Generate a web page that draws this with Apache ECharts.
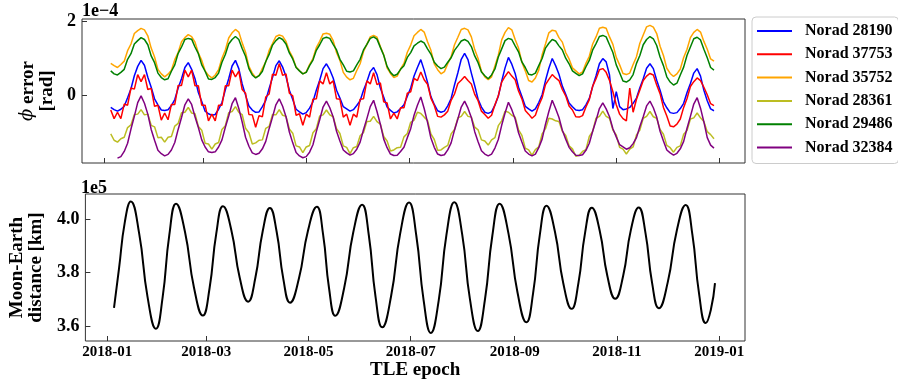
<!DOCTYPE html>
<html><head><meta charset="utf-8">
<script src="https://cdn.jsdelivr.net/npm/echarts@6/dist/echarts.min.js"></script>
<style>html,body{margin:0;padding:0;background:#fff}#c{width:898px;height:385px}</style>
</head><body><div id="c"></div><script>
// sample days (days since 2018-01-01) for the phi-error series
const days = [4,6,8,10,12,14,16,18,20,22,24,26,28,30,32,34,36,38,40,42,44,46,48,50,52,54,56,58,60,62,64,66,68,70,72,74,76,78,80,82,84,86,88,90,92,94,96,98,100,102,104,106,108,110,112,114,116,118,120,122,124,126,128,130,132,134,136,138,140,142,144,146,148,150,152,154,156,158,160,162,164,166,168,170,172,174,176,178,180,182,184,186,188,190,192,194,196,198,200,202,204,206,208,210,212,214,216,218,220,222,224,226,228,230,232,234,236,238,240,242,244,246,248,250,252,254,256,258,260,262,264,266,268,270,272,274,276,278,280,282,284,286,288,290,292,294,296,298,300,302,304,306,308,310,312,314,316,318,320,322,324,326,328,330,332,334,336,338,340,342,344,346,348,350,352,354,356,358,360,362];

// phi error values, units of 1e-4 rad
const norad28190 = [-0.32,-0.38,-0.42,
 -0.37,-0.29,-0.06,0.18,0.53,0.78,0.94,
 0.81,0.49,0.22,-0.09,-0.25,-0.39,-0.40,
 -0.38,-0.27,-0.11,0.20,0.45,0.75,0.88,
 0.70,0.45,0.08,-0.16,-0.42,-0.49,-0.53,
 -0.51,-0.37,-0.19,0.15,0.45,0.79,0.94,
 0.72,0.31,0.01,-0.28,-0.39,-0.45,
 -0.44,-0.30,-0.13,0.19,0.48,0.80,0.93,
 0.76,0.51,0.14,-0.11,-0.37,-0.44,-0.50,
 -0.46,-0.34,-0.17,0.14,0.41,0.72,0.85,
 0.69,0.47,0.14,-0.07,-0.30,-0.36,-0.42,
 -0.38,-0.27,-0.14,0.14,0.37,0.64,0.75,
 0.56,0.20,-0.05,-0.31,-0.40,-0.47,
 -0.44,-0.35,-0.25,-0.02,0.20,0.52,0.75,0.96,
 0.68,0.35,-0.03,-0.24,-0.41,-0.45,
 -0.42,-0.28,-0.08,0.28,0.61,0.97,1.13,
 0.96,0.60,0.26,-0.10,-0.31,-0.45,-0.48,
 -0.44,-0.26,-0.02,0.38,0.74,1.02,
 0.84,0.59,0.22,-0.03,-0.29,-0.36,-0.42,
 -0.36,-0.19,0.02,0.40,0.73,0.99,
 0.80,0.57,0.25,0.03,-0.20,-0.30,-0.39,-0.40,
 -0.38,-0.25,-0.08,0.24,0.53,0.85,0.99,
 0.90,0.55,-0.35,0.10,-0.30,-0.38,-0.36,
 -0.32,-0.21,-0.07,0.21,0.45,0.73,0.85,
 0.72,0.41,0.14,-0.17,-0.33,-0.46,-0.48,
 -0.46,-0.35,-0.21,0.08,0.32,0.60,0.72,
 0.52,0.14,-0.14,-0.36,-0.41];

const norad37753 = [-0.39,-0.62,-0.45,
 -0.62,-0.23,-0.26,0.20,0.17,0.56,0.37,
 0.56,0.16,0.19,-0.29,-0.26,-0.66,-0.47,
 -0.65,-0.24,-0.24,0.27,0.27,0.68,0.50,
 0.68,0.26,0.26,-0.26,-0.26,-0.68,-0.50,
 -0.68,-0.26,-0.26,0.26,0.26,0.68,0.50,
 0.65,0.16,0.06,-0.51,-0.52,-0.85,
 -0.54,-0.57,-0.04,0.04,0.57,0.54,0.85,
 0.54,0.58,0.06,-0.01,-0.53,-0.49,-0.80,
 -0.50,-0.58,-0.10,-0.09,0.39,0.31,0.61,
 0.31,0.39,-0.09,-0.10,-0.58,-0.50,-0.80,
 -0.50,-0.58,-0.10,-0.09,0.39,0.31,0.61,
 0.29,0.34,-0.17,-0.20,-0.63,-0.47,
 -0.63,-0.33,-0.33,0.06,0.10,0.46,0.40,0.63,
 0.42,0.30,-0.07,-0.27,-0.56,-0.58,
 -0.52,-0.42,-0.13,0.04,0.32,0.41,0.51,
 0.40,0.31,0.03,-0.14,-0.42,-0.51,-0.61,
 -0.53,-0.25,-0.01,0.36,0.51,0.64,
 0.52,0.42,0.12,-0.09,-0.40,-0.50,-0.61,
 -0.53,-0.27,-0.06,0.29,0.43,0.56,
 0.47,0.40,0.16,-0.01,-0.28,-0.39,-0.57,-0.58,
 -0.54,-0.31,-0.11,0.25,0.45,0.69,0.72,
 0.62,0.40,0.10,-0.25,-0.50,-0.62,-0.68,
 0.20,-0.45,-0.10,0.15,0.40,0.52,0.59,
 0.55,0.28,0.05,-0.32,-0.55,-0.82,-0.84,
 -0.77,-0.63,-0.32,-0.08,0.24,0.37,0.47,
 0.40,0.22,0.02,-0.22,-0.27];

const norad35752 = [0.86,0.80,0.75,
 0.83,0.92,1.20,1.38,1.66,1.74,1.80,
 1.76,1.60,1.27,1.03,0.70,0.58,0.50,
 0.57,0.68,0.96,1.15,1.44,1.55,1.63,
 1.58,1.43,1.14,0.94,0.66,0.54,0.47,
 0.55,0.69,1.00,1.22,1.54,1.68,1.77,
 1.70,1.41,1.16,0.78,0.60,0.48,
 0.53,0.73,0.90,1.21,1.39,1.58,1.62,
 1.59,1.45,1.19,1.02,0.76,0.66,0.58,
 0.63,0.83,0.99,1.28,1.45,1.65,1.67,
 1.64,1.47,1.15,0.94,0.62,0.49,0.42,
 0.46,0.67,0.85,1.18,1.37,1.57,1.61,
 1.56,1.31,1.09,0.74,0.59,0.48,
 0.52,0.71,0.86,1.16,1.35,1.60,1.69,1.77,
 1.70,1.44,1.21,0.85,0.69,0.58,
 0.64,0.85,1.04,1.36,1.56,1.77,1.80,
 1.76,1.57,1.23,0.99,0.65,0.50,0.42,
 0.50,0.79,1.08,1.49,1.69,1.82,
 1.76,1.50,1.27,0.89,0.66,0.40,0.36,
 0.47,0.68,1.09,1.38,1.68,1.75,
 1.73,1.55,1.43,1.15,0.98,0.74,0.66,0.58,
 0.63,0.86,1.05,1.38,1.57,1.80,1.83,
 1.80,1.57,1.37,1.02,0.82,0.59,0.56,
 0.60,0.83,1.04,1.40,1.62,1.84,1.88,
 1.83,1.66,1.32,1.07,0.73,0.59,0.51,
 0.58,0.71,1.02,1.24,1.55,1.69,1.77,
 1.70,1.45,1.24,0.98,0.92];

const norad28361 = [-1.03,-1.20,-1.25,
 -1.16,-1.12,-0.86,-0.79,-0.51,-0.50,-0.38,
 -0.52,-0.50,-0.80,-0.84,-1.13,-1.12,-1.25,
 -1.12,-1.10,-0.82,-0.75,-0.46,-0.45,-0.32,
 -0.47,-0.49,-0.83,-0.93,-1.28,-1.30,-1.44,
 -1.30,-1.26,-0.91,-0.81,-0.46,-0.43,-0.30,
 -0.45,-0.51,-0.88,-1.00,-1.30,-1.27,
 -1.20,-1.19,-0.88,-0.83,-0.51,-0.52,-0.38,
 -0.53,-0.56,-0.90,-1.01,-1.35,-1.38,-1.53,
 -1.38,-1.34,-1.00,-0.89,-0.55,-0.52,-0.39,
 -0.52,-0.57,-0.89,-1.02,-1.35,-1.39,-1.56,
 -1.40,-1.37,-1.08,-0.99,-0.70,-0.69,-0.56,
 -0.70,-0.77,-1.10,-1.22,-1.49,-1.46,
 -1.40,-1.39,-1.11,-1.02,-0.72,-0.66,-0.45,-0.48,
 -0.58,-0.67,-1.03,-1.18,-1.47,-1.46,
 -1.39,-1.34,-1.03,-0.91,-0.60,-0.56,-0.43,
 -0.56,-0.58,-0.85,-0.92,-1.19,-1.22,-1.33,
 -1.19,-1.13,-0.81,-0.68,-0.42,-0.45,
 -0.53,-0.58,-0.92,-1.07,-1.41,-1.46,-1.60,
 -1.45,-1.38,-1.03,-0.89,-0.61,-0.63,
 -0.68,-0.70,-0.96,-1.07,-1.35,-1.43,-1.63,-1.60,
 -1.50,-1.45,-1.10,-0.96,-0.61,-0.56,-0.42,
 -0.56,-0.61,-0.93,-1.06,-1.39,-1.44,-1.57,
 -1.44,-1.38,-1.06,-0.93,-0.61,-0.56,-0.43,
 -0.57,-0.61,-0.91,-1.04,-1.34,-1.40,-1.52,
 -1.39,-1.35,-1.04,-0.94,-0.63,-0.60,-0.47,
 -0.60,-0.70,-0.97,-1.05,-1.16];

const norad29486 = [0.66,0.58,0.55,
 0.62,0.70,0.97,1.12,1.38,1.47,1.55,
 1.50,1.36,1.06,0.88,0.60,0.48,0.42,
 0.45,0.65,0.82,1.13,1.30,1.50,1.53,
 1.51,1.30,1.12,0.82,0.65,0.44,0.43,
 0.48,0.60,0.89,1.10,1.38,1.50,1.58,
 1.50,1.26,1.05,0.72,0.55,0.47,
 0.53,0.65,0.91,1.10,1.35,1.47,1.55,
 1.50,1.38,1.14,0.98,0.75,0.66,0.58,
 0.62,0.80,0.95,1.21,1.36,1.53,1.56,
 1.53,1.37,1.22,0.97,0.82,0.65,0.63,
 0.66,0.82,0.97,1.22,1.37,1.53,1.57,
 1.51,1.29,1.08,0.78,0.62,0.53,
 0.57,0.70,0.80,1.02,1.15,1.33,1.40,1.46,
 1.41,1.25,1.11,0.89,0.79,0.72,
 0.76,0.89,1.01,1.21,1.33,1.46,1.50,
 1.45,1.31,1.06,0.88,0.63,0.53,0.45,
 0.55,0.71,1.03,1.25,1.47,1.53,
 1.50,1.33,1.17,0.90,0.75,0.57,0.55,
 0.60,0.80,0.99,1.27,1.40,1.50,
 1.46,1.33,1.22,1.00,0.85,0.66,0.59,0.53,
 0.58,0.77,0.94,1.22,1.39,1.58,1.61,
 1.57,1.36,1.15,0.82,0.61,0.39,0.36,
 0.42,0.56,0.86,1.07,1.36,1.50,1.58,
 1.52,1.34,1.03,0.80,0.50,0.36,0.28,
 0.33,0.55,0.76,1.08,1.30,1.52,1.56,
 1.49,1.24,1.01,0.75,0.68];

const norad32384 = [null,null,-1.68,
 -1.64,-1.50,-1.28,-0.90,-0.56,-0.19,-0.01,
 -0.21,-0.50,-0.91,-1.20,-1.47,-1.56,-1.62,
 -1.58,-1.46,-1.26,-0.91,-0.59,-0.25,-0.09,
 -0.24,-0.57,-0.86,-1.19,-1.38,-1.51,-1.53,
 -1.51,-1.38,-1.19,-0.85,-0.55,-0.22,-0.06,
 -0.35,-0.71,-1.12,-1.36,-1.54,-1.58,
 -1.55,-1.43,-1.23,-0.89,-0.58,-0.25,-0.09,
 -0.29,-0.57,-0.98,-1.27,-1.53,-1.62,-1.67,
 -1.64,-1.52,-1.32,-0.97,-0.65,-0.31,-0.15,
 -0.33,-0.58,-0.96,-1.22,-1.46,-1.54,-1.60,
 -1.56,-1.44,-1.25,-0.92,-0.62,-0.30,-0.13,
 -0.43,-0.77,-1.17,-1.40,-1.57,-1.61,
 -1.60,-1.50,-1.39,-1.13,-0.89,-0.53,-0.26,-0.04,
 -0.35,-0.72,-1.14,-1.39,-1.57,-1.61,
 -1.59,-1.46,-1.27,-0.93,-0.63,-0.31,-0.15,
 -0.34,-0.59,-0.97,-1.24,-1.48,-1.57,-1.62,
 -1.57,-1.41,-1.18,-0.80,-0.47,-0.18,
 -0.38,-0.63,-1.00,-1.25,-1.49,-1.57,-1.62,
 -1.57,-1.40,-1.17,-0.77,-0.43,-0.13,
 -0.35,-0.59,-0.93,-1.17,-1.39,-1.51,-1.60,-1.61,
 -1.59,-1.47,-1.28,-0.96,-0.67,-0.35,-0.20,
 -0.36,-0.57,-0.89,-1.11,-1.32,-1.38,-1.44,
 -1.40,-1.29,-1.13,-0.83,-0.57,-0.28,-0.15,
 -0.33,-0.58,-0.96,-1.22,-1.46,-1.54,-1.60,
 -1.55,-1.43,-1.23,-0.88,-0.56,-0.23,-0.06,
 -0.34,-0.71,-1.13,-1.33,-1.41];

// Moon-Earth distance, units of 1e5 km
const moonDays = [4,7,10.5,14,19,24,29,33,37,41,46.3,51.7,57,61,65,69,74,79,84,88.3,92.7,97,101,105,109,114.3,119.7,125,128.7,132.3,136,141.3,146.7,152,156,160,164,169.3,174.7,180,184.3,188.7,193,197.7,202.3,207,211.7,216.3,221,225.3,229.7,234,239.3,244.7,250,254,258,262,267,272,277,281,285,289,293.7,298.3,303,307.7,312.3,317,321,325,329,334.3,339.7,345,349,353,357,360,362.5];
const moonDist = [3.668,3.815,3.99,4.065,3.946,3.709,3.59,3.707,3.94,4.057,3.953,3.744,3.639,3.741,3.945,4.047,3.958,3.78,3.691,3.779,3.954,4.041,3.953,3.776,3.687,3.777,3.956,4.045,3.943,3.74,3.638,3.742,3.949,4.053,3.939,3.71,3.595,3.712,3.945,4.061,3.939,3.696,3.574,3.696,3.94,4.062,3.942,3.701,3.581,3.70,3.938,4.057,3.946,3.725,3.614,3.723,3.94,4.049,3.953,3.76,3.664,3.759,3.948,4.042,3.957,3.787,3.702,3.787,3.958,4.043,3.949,3.76,3.666,3.763,3.956,4.052,3.942,3.721,3.611,3.66,3.76];

// ticks
const tickDays = [0,59,120,181,243,304,365];
const tickLabels = ['2018-01','2018-03','2018-05','2018-07','2018-09','2018-11','2019-01'];
const phiTicks = [0,2];
const distTicks = [3.6,3.8,4.0];

const seriesNames = ['Norad 28190','Norad 37753','Norad 35752','Norad 28361','Norad 29486','Norad 32384'];
const seriesColors = ['#0000ff','#ff0000','#ffa500','#bcbd22','#008000','#800080'];
const seriesValues = [norad28190,norad37753,norad35752,norad28361,norad29486,norad32384];

const FONT = '"Liberation Serif","Times New Roman",serif';
const AX = '#333';
const chart = echarts.init(document.getElementById('c'));

function xAxisCfg(gi, withLabels){
  const a = {
    gridIndex: gi, type: 'value', min: -13.06, max: 380.4,
    axisLine: {show: false, onZero: false}, splitLine: {show: false},
    axisTick: {inside: true, length: 5, customValues: tickDays, lineStyle: {color: AX}},
    axisLabel: {show: withLabels, customValues: tickDays, fontFamily: FONT, fontWeight: 'bold', fontSize: 15, color: '#000', margin: 4,
      formatter: v => { const i = tickDays.indexOf(v); return i >= 0 ? tickLabels[i] : ''; }}
  };
  if (withLabels) {
    a.name = 'TLE epoch'; a.nameLocation = 'middle'; a.nameGap = 19;
    a.nameTextStyle = {fontFamily: FONT, fontWeight: 'bold', fontSize: 19, color: '#000'};
  }
  return a;
}

const series = seriesNames.map((n, k) => ({
  type: 'line', name: n, xAxisIndex: 0, yAxisIndex: 0,
  data: days.map((d, i) => [d, seriesValues[k][i]]),
  symbol: 'none', lineStyle: {width: 1.5, color: seriesColors[k]}, itemStyle: {color: seriesColors[k]},
  connectNulls: false, z: 2 + k
}));
series.push({
  type: 'line', name: 'distance', xAxisIndex: 1, yAxisIndex: 1,
  data: moonDays.map((d, i) => [d, moonDist[i]]),
  symbol: 'none', smooth: true, lineStyle: {width: 2, color: '#000'}
});

chart.setOption({
  animation: false,
  textStyle: {fontFamily: FONT, fontWeight: 'bold', color: '#000'},
  grid: [
    {left: 82, top: 19, width: 663, height: 144, show: true, borderColor: AX, borderWidth: 1},
    {left: 82, top: 194, width: 663, height: 147, show: true, borderColor: AX, borderWidth: 1}
  ],
  xAxis: [xAxisCfg(0, false), xAxisCfg(1, true)],
  yAxis: [
    {gridIndex: 0, type: 'value', min: -1.81, max: 2.05,
     axisLine: {show: false, onZero: false}, splitLine: {show: false},
     axisTick: {inside: true, length: 5, customValues: phiTicks, lineStyle: {color: AX}},
     axisLabel: {customValues: phiTicks, fontFamily: FONT, fontWeight: 'bold', fontSize: 18, color: '#000', margin: 6, formatter: v => String(v)},
     name: '{p|ϕ} error\n[rad]', nameLocation: 'middle', nameRotate: 90, nameGap: 24,
     nameTextStyle: {fontFamily: FONT, fontWeight: 'bold', fontSize: 19, color: '#000', lineHeight: 19,
       rich: {p: {fontFamily: '"DejaVu Serif",serif', fontStyle: 'italic', fontWeight: 'normal', fontSize: 18, lineHeight: 19, color: '#000'}}}},
    {gridIndex: 1, type: 'value', min: 3.544, max: 4.093,
     axisLine: {show: false, onZero: false}, splitLine: {show: false},
     axisTick: {inside: true, length: 5, customValues: distTicks, lineStyle: {color: AX}},
     axisLabel: {customValues: distTicks, fontFamily: FONT, fontWeight: 'bold', fontSize: 18, color: '#000', margin: 6, formatter: v => v.toFixed(1)},
     name: 'Moon-Earth\ndistance [km]', nameLocation: 'middle', nameRotate: 90, nameGap: 32,
     nameTextStyle: {fontFamily: FONT, fontWeight: 'bold', fontSize: 19, color: '#000', lineHeight: 19}}
  ],
  legend: {
    orient: 'vertical', left: 752, top: 17, data: seriesNames,
    icon: 'rect', itemWidth: 35, itemHeight: 2, itemGap: 7.3, padding: [6, 6, 8, 5],
    backgroundColor: '#fff', borderColor: '#cccccc', borderWidth: 1, borderRadius: 4,
    textStyle: {fontFamily: FONT, fontWeight: 'bold', fontSize: 16, color: '#000', padding: [0, 0, 0, 8]}
  },
  graphic: [
    {type: 'text', left: 82, top: 2, style: {text: '1e\u22124', font: 'bold 18px "Liberation Serif"', fill: '#000'}},
    {type: 'text', left: 81, top: 179, style: {text: '1e5', font: 'bold 18px "Liberation Serif"', fill: '#000'}}
  ],
  series: series
});
</script></body></html>
